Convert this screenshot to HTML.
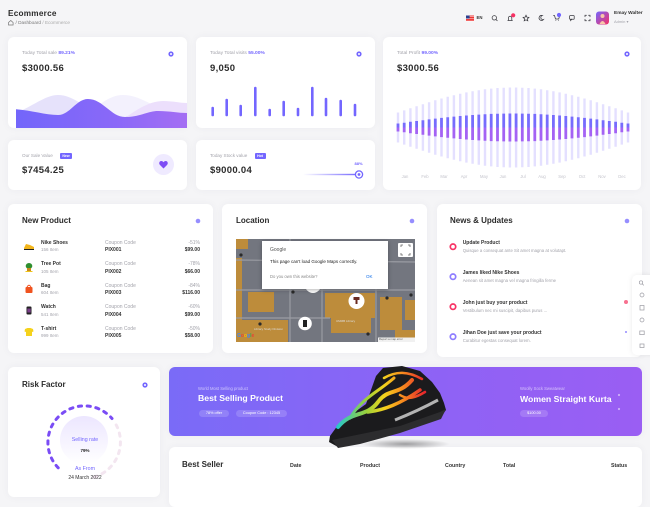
<!DOCTYPE html>
<html><head><meta charset="utf-8">
<style>
*{margin:0;padding:0;box-sizing:border-box}
html,body{width:650px;height:480px;overflow:hidden;background:#f5f5f7;font-family:"Liberation Sans",sans-serif;color:#2c2f36}
.c{position:absolute;background:#fff;border-radius:6px;box-shadow:0 0 8px rgba(60,60,90,.05)}
.t{position:absolute;white-space:nowrap;line-height:1}
.g{color:#a3a3ab}
.p{color:#7366ff;font-weight:bold}
.b{font-weight:bold}
.r{text-align:right}
.ctr{transform:translateX(-50%)}
svg.full{position:absolute;left:0;top:0}
.pill{position:absolute;background:rgba(255,255,255,.16);border-radius:5px;color:#fff;font-size:3.8px;line-height:7px;text-align:center;white-space:nowrap}
</style></head><body>

<!-- cards -->
<div class="c" style="left:8px;top:37px;width:179px;height:91px"></div>
<div class="c" style="left:196px;top:37px;width:179px;height:91px"></div>
<div class="c" style="left:383px;top:37px;width:258px;height:153px"></div>
<div class="c" style="left:8px;top:140px;width:179px;height:50px"></div>
<div class="c" style="left:196px;top:140px;width:179px;height:50px"></div>
<div class="c" style="left:8px;top:204px;width:205px;height:149px"></div>
<div class="c" style="left:222px;top:204px;width:205px;height:149px"></div>
<div class="c" style="left:437px;top:204px;width:205px;height:153px"></div>
<div class="c" style="left:8px;top:367px;width:152px;height:130px"></div>
<div class="c" style="left:169px;top:367px;width:473px;height:69px;background:linear-gradient(90deg,#7a6bf7,#8f62f5 60%,#9a5ef3)"></div>
<div class="c" style="left:169px;top:447px;width:473px;height:60px"></div>
<div class="c" style="left:632px;top:275px;width:26px;height:80px;border-radius:5px 0 0 5px;box-shadow:0 0 6px rgba(0,0,0,.08)"></div>

<svg class="full" width="650" height="480" viewBox="0 0 650 480">
<defs>
<clipPath id="c1"><rect x="8" y="37" width="179" height="91" rx="6"/></clipPath>
<clipPath id="mapc"><rect x="236" y="239" width="179" height="103"/></clipPath>
<linearGradient id="wg" x1="0" x2="1" y1="0" y2="0"><stop offset="0" stop-color="#7166fb"/><stop offset=".6" stop-color="#8a68f8"/><stop offset="1" stop-color="#a46ef3"/></linearGradient>
<linearGradient id="sg" x1="0" x2="1"><stop offset="0" stop-color="#7366ff" stop-opacity="0"/><stop offset="1" stop-color="#7366ff"/></linearGradient>
<linearGradient id="ig" x1="0" x2="0" y1="0" y2="1"><stop offset="0" stop-color="#ece6ff"/><stop offset="1" stop-color="#ffffff"/></linearGradient>
<linearGradient id="av" x1="0" x2="1" y1="0" y2="1"><stop offset="0" stop-color="#7366ff"/><stop offset="1" stop-color="#f73164"/></linearGradient>
<linearGradient id="rb" x1="335" x2="425" y1="0" y2="0" gradientUnits="userSpaceOnUse"><stop offset="0" stop-color="#1ec6d6"/><stop offset=".35" stop-color="#9bd13a"/><stop offset=".55" stop-color="#f5d21c"/><stop offset=".75" stop-color="#f68a1e"/><stop offset="1" stop-color="#e8242c"/></linearGradient>
<radialGradient id="sh" cx=".5" cy=".5" r=".5"><stop offset="0" stop-color="#000" stop-opacity=".35"/><stop offset="1" stop-color="#000" stop-opacity="0"/></radialGradient>
</defs>

<!-- card1 waves -->
<g clip-path="url(#c1)" transform="translate(8,37)">
<path d="M0,78 C20,74 35,58 50,58 C65,58 75,70 92,76 L92,91 L0,91 Z" fill="#e6e2fb"/>
<path d="M70,82 C90,70 100,58 115,58 C130,58 138,66 152,70 L152,91 L70,91 Z" fill="#f3f1fd"/>
<path d="M110,86 C125,75 140,64 155,64 C165,64 172,66 179,66 L179,91 L110,91 Z" fill="#ecdffc"/>
<path d="M0,72 C20,72 35,78 50,78 C62,78 68,62 80,62 C95,62 103,80 117,80 C132,80 140,74 150,74 C162,74 170,76 179,76 L179,91 L0,91 Z" fill="url(#wg)"/>
</g>

<!-- card2 bars -->
<g stroke="#7366ff" stroke-width="2.6" stroke-linecap="round">
<path d="M212.7 108v7M226.7 100v15M240.7 106v9M255.3 88v27M269.7 110v5M283.7 102v13M298 109v6M312.3 88v27M326 99v16M340.7 101v14M355 105v10"/>
</g>

<!-- card3 bars -->
<path stroke="#e4e0ff" stroke-width="2.4" fill="none" d="M398 112.5v30M404.2 110.4v34.2M410.4 108.3v38.4M416.6 106.2v42.6M422.9 104.2v46.6M429.1 102.2v50.6M435.3 100.3v54.4M441.5 98.5v58M447.7 96.8v61.4M453.9 95.2v64.6M460.2 93.7v67.6M466.4 92.4v70.2M472.6 91.2v72.6M478.8 90.2v74.6M485 89.3v76.4M491.2 88.6v77.8M497.5 88v79M503.7 87.7v79.6M509.9 87.5v80M516.1 87.5v80M522.3 87.7v79.6M528.5 88v79M534.8 88.6v77.8M541 89.3v76.4M547.2 90.2v74.6M553.4 91.2v72.6M559.6 92.4v70.2M565.8 93.7v67.6M572 95.2v64.6M578.3 96.8v61.4M584.5 98.5v58M590.7 100.3v54.4M596.9 102.2v50.6M603.1 104.2v46.6M609.3 106.2v42.6M615.6 108.3v38.4M621.8 110.4v34.2M628 112.5v30"/>
<path stroke="#776cfd" stroke-width="2.8" fill="none" d="M398 123.5v4M404.2 122.7v4.8M410.4 121.8v5.7M416.6 121v6.5M422.9 120.2v7.3M429.1 119.4v8.1M435.3 118.6v8.9M441.5 117.9v9.6M447.7 117.2v10.3M453.9 116.6v10.9M460.2 116v11.5M466.4 115.5v12M472.6 115v12.5M478.8 114.6v12.9M485 114.2v13.3M491.2 113.9v13.6M497.5 113.7v13.8M503.7 113.6v13.9M509.9 113.5v14M516.1 113.5v14M522.3 113.6v13.9M528.5 113.7v13.8M534.8 113.9v13.6M541 114.2v13.3M547.2 114.6v12.9M553.4 115v12.5M559.6 115.5v12M565.8 116v11.5M572 116.6v10.9M578.3 117.2v10.3M584.5 117.9v9.6M590.7 118.6v8.9M596.9 119.4v8.1M603.1 120.2v7.3M609.3 121v6.5M615.6 121.8v5.7M621.8 122.7v4.8M628 123.5v4"/>
<path stroke="#a463f4" stroke-width="2.8" fill="none" d="M398 127.5v4M404.2 127.5v4.8M410.4 127.5v5.7M416.6 127.5v6.5M422.9 127.5v7.3M429.1 127.5v8.1M435.3 127.5v8.9M441.5 127.5v9.6M447.7 127.5v10.3M453.9 127.5v10.9M460.2 127.5v11.5M466.4 127.5v12M472.6 127.5v12.5M478.8 127.5v12.9M485 127.5v13.3M491.2 127.5v13.6M497.5 127.5v13.8M503.7 127.5v13.9M509.9 127.5v14M516.1 127.5v14M522.3 127.5v13.9M528.5 127.5v13.8M534.8 127.5v13.6M541 127.5v13.3M547.2 127.5v12.9M553.4 127.5v12.5M559.6 127.5v12M565.8 127.5v11.5M572 127.5v10.9M578.3 127.5v10.3M584.5 127.5v9.6M590.7 127.5v8.9M596.9 127.5v8.1M603.1 127.5v7.3M609.3 127.5v6.5M615.6 127.5v5.7M621.8 127.5v4.8M628 127.5v4"/>

<!-- gears -->
<g fill="#7366ff">
<circle cx="171" cy="54" r="2.6"/><circle cx="359" cy="54" r="2.6"/><circle cx="627" cy="54" r="2.6"/><circle cx="145" cy="385" r="2.6"/>
</g>
<g fill="#fff"><circle cx="171" cy="54" r="1"/><circle cx="359" cy="54" r="1"/><circle cx="627" cy="54" r="1"/><circle cx="145" cy="385" r="1"/></g>
<!-- title dots -->
<g fill="#968eff"><circle cx="198" cy="221" r="2.3"/><circle cx="412" cy="221" r="2.3"/><circle cx="627" cy="221" r="2.3"/></g>

<!-- heart -->
<circle cx="163.5" cy="164.5" r="10.5" fill="#efeaff"/>
<path d="M163.5,168.5 L160,165 C158.5,163.5 159.3,161 161.3,161 C162.3,161 163,161.6 163.5,162.3 C164,161.6 164.7,161 165.7,161 C167.7,161 168.5,163.5 167,165 Z" fill="#7e4cf5"/>

<!-- slider -->
<rect x="303" y="173.8" width="55" height="1.4" fill="url(#sg)"/>
<circle cx="359" cy="174.5" r="3.6" fill="#fff" stroke="#7366ff" stroke-width="1.3"/>
<circle cx="359" cy="174.5" r="1.4" fill="#7366ff"/>

<!-- product icons -->
<g>
<path d="M24,248 L26,244 L30,245 L34,247 L34,249 L24,249 Z" fill="#f2b51c"/><path d="M24,249 L34,249 L34,250 L24,250Z" fill="#222"/>
<ellipse cx="29" cy="266" rx="3.3" ry="3" fill="#2f8f2f"/><rect x="27" y="268" width="4" height="3" fill="#c7891e"/><rect x="25.5" y="271" width="7" height="1" fill="#f0c419"/>
<rect x="25.5" y="287" width="7" height="6" rx="1" fill="#f0531f"/><path d="M27,287 Q29,283.5 31,287" stroke="#f0531f" stroke-width="0.9" fill="none"/>
<rect x="26.5" y="306.5" width="5" height="8" rx="1" fill="#222"/><rect x="27.3" y="308.5" width="3.4" height="4" fill="#7b3f8a"/>
<path d="M25,329 L27.5,328 L30.5,328 L33,329 L33.5,331.5 L32,332 L32,336 L26,336 L26,332 L24.5,331.5 Z" fill="#f5d21c"/>
</g>

<!-- map -->
<g clip-path="url(#mapc)">
<rect x="236" y="239" width="179" height="103" fill="#73767f"/>
<g fill="#bd8c3b">
<rect x="236" y="239" width="12" height="10"/>
<rect x="236" y="258" width="6" height="84"/>
<rect x="248" y="292" width="26" height="20"/>
<rect x="236" y="320" width="52" height="22"/>
<rect x="325" y="293" width="50" height="25"/>
<rect x="331" y="318" width="40" height="15"/>
<rect x="380" y="297" width="22" height="33"/>
<rect x="405" y="300" width="10" height="20"/>
<rect x="395" y="330" width="20" height="12"/>
</g>
<g stroke="#9a9ca3" stroke-width="1.2" fill="none">
<path d="M236,290 L415,290M236,318 L330,318M290,239 L290,342M322,270 L322,342M376,270 L376,342M236,260 L415,262"/>
</g>
<g fill="#2a2a2a"><circle cx="241" cy="255" r="1.6"/><circle cx="293" cy="292" r="1.6"/><circle cx="387" cy="298" r="1.6"/><circle cx="411" cy="295" r="1.6"/><circle cx="260" cy="324" r="1.6"/><circle cx="368" cy="334" r="1.6"/><circle cx="266" cy="285" r="1.4"/></g>
<circle cx="313" cy="285" r="8" fill="#fff"/>
<circle cx="356.5" cy="301" r="8" fill="#fff"/><path d="M353.5,297 h6 v3 h-2 v4 h-2 v-4 h-2z" fill="#6a2a20"/>
<circle cx="305" cy="323.5" r="6.8" fill="#fff"/><path d="M303,320 h4 v7 h-4z" fill="#222"/>
<rect x="378" y="337.5" width="37" height="4.5" fill="#f1f1f1"/>
</g>
<!-- map dialog -->
<rect x="262" y="241" width="126" height="48" fill="#fff" style="filter:drop-shadow(0 1px 2px rgba(0,0,0,.3))"/>
<rect x="398" y="243" width="15" height="14" rx="1" fill="#fff"/>
<path d="M401,247v-2h2M408,245h2v2M410,253v2h-2M403,255h-2v-2" stroke="#666" stroke-width=".8" fill="none"/>

<!-- news circles -->
<g fill="#fff" stroke-width="1.7">
<circle cx="453" cy="246.7" r="2.7" stroke="#f73164"/>
<circle cx="453" cy="276.7" r="2.7" stroke="#8d7cff"/>
<circle cx="453" cy="306.7" r="2.7" stroke="#f73164"/>
<circle cx="453" cy="336.7" r="2.7" stroke="#8d7cff"/>
</g>
<circle cx="626" cy="302" r="2" fill="#f7708f"/>
<circle cx="626" cy="332" r="0.9" fill="#7366ff"/>

<!-- right toolbar icons -->
<g stroke="#9a9aa2" stroke-width=".7" fill="none">
<circle cx="641" cy="282.5" r="1.7"/><path d="M642.2,283.8 l1.6,1.6"/>
<circle cx="642" cy="295" r="2"/>
<rect x="640" y="305.5" width="4" height="4.5"/>
<circle cx="642" cy="320" r="2"/>
<rect x="639.8" y="331" width="4.4" height="3.6"/>
<rect x="640" y="344" width="4" height="3.5"/>
</g>

<!-- risk ring -->
<circle cx="84" cy="440" r="24" fill="url(#ig)"/>
<path d="M58.2,467.8 A36.5,36.5 0 1 1 112,418.5" fill="none" stroke="#7a4cf5" stroke-width="3" stroke-dasharray="3.2 5.6" stroke-linecap="round"/>
<path d="M116.2,424.9 A36.5,36.5 0 0 1 90.3,477.9" fill="none" stroke="#f3e6f0" stroke-width="3" stroke-dasharray="3.2 5.6" stroke-linecap="round"/>

<!-- banner dots -->
<circle cx="619" cy="395" r="1.1" fill="#fff" opacity=".5"/>
<circle cx="619" cy="409" r="1.1" fill="#fff" opacity=".5"/>

<!-- shoe -->
<ellipse cx="405" cy="444" rx="45" ry="5" fill="url(#sh)"/>
<path d="M330,436 L338,425 L352,414 L366,404 L371,390 L376,376 L383,368 L402,366 L420,371 L432,382 L440,393 L444,403 L446,410 L440,418 L400,432 L360,443 L338,447 L329,442 Z" fill="#1b1b1d"/>
<path d="M332,440 L400,426 L440,412 L446,409 L441,419 L400,433 L360,444 L338,448 Z" fill="#2c2c2e"/>
<path d="M395,420 C410,414 425,407 438,400" stroke="#d9d9d9" stroke-width="3" fill="none" opacity=".8"/>
<g stroke="url(#rb)" fill="none" stroke-linecap="round">
<path d="M338,427 C352,410 366,418 378,402 C388,388 398,396 412,380" stroke-width="4"/>
<path d="M350,418 C362,398 378,392 394,378" stroke-width="3"/>
<path d="M368,412 C384,410 400,404 420,390" stroke-width="3.5"/>
<path d="M384,378 C396,371 408,371 422,379" stroke-width="2.5"/>
<path d="M400,395 C408,400 415,398 425,392" stroke-width="2.5"/>
</g>

<!-- header icons -->
<rect x="466" y="15.5" width="8" height="5.5" fill="#e33"/>
<path d="M466,16.6h8M466,18.8h8M466,21h8" stroke="#fff" stroke-width=".5"/>
<rect x="466" y="15.5" width="3.6" height="3" fill="#2a3f8f"/>
<g stroke="#3a3a40" stroke-width=".75" fill="none" stroke-linecap="round">
<circle cx="494.3" cy="17.8" r="2.2"/><path d="M495.9,19.4 l1.3,1.3"/>
<path d="M507.8,20.5 h4.6 M508.4,20.5 v-2.5 a1.7,1.7 0 0 1 3.4,0 v2.5"/>
<path d="M526,15.2 l0.9,1.9 2,.3 -1.45,1.4 .35,2 -1.8,-.95 -1.8,.95 .35,-2 -1.45,-1.4 2,-.3z"/>
<path d="M542.3,15.5 a2.5,2.5 0 1 0 1.2,4 a2,2 0 0 1 -1.2,-4z"/>
<path d="M553.5,15.5 h1 l1,3.5 h3.2 l.7,-2.3 M555.8,20.6 h.1 M558.3,20.6 h.1"/>
<rect x="569.6" y="15.6" width="4.6" height="3.6" rx=".5"/><path d="M570.6,19.2 v1.3 l1.2,-1.3"/>
<path d="M585,16.8v-1.5h1.5M588.5,15.3h1.5v1.5M590,19.3v1.5h-1.5M586.5,20.8h-1.5v-1.5"/>
</g>
<circle cx="513.2" cy="15.3" r="2.1" fill="#f73164"/>
<circle cx="559" cy="15" r="2.1" fill="#7366ff"/>
<rect x="596" y="11.5" width="13" height="13" rx="3" fill="url(#av)"/>
<circle cx="602.5" cy="16" r="2" fill="#f8c7a8"/><path d="M599.5,24 q3,-6 6,0z" fill="#f8c7a8"/>
<!-- breadcrumb home -->
<path d="M8.5,25 v-2.5 l2.3,-2 2.3,2 v2.5z" fill="none" stroke="#777" stroke-width=".7"/>
</svg>

<!-- header text -->
<div class="t b" style="left:8px;top:10px;font-size:8.2px;letter-spacing:.25px;color:#2b2b2b">Ecommerce</div>
<div class="t" style="left:15.5px;top:21.2px;font-size:4.7px;color:#777">/ Dashboard <span style="color:#aaa">/ Ecommerce</span></div>
<div class="t b" style="left:476.5px;top:16.1px;font-size:4.3px;color:#333">EN</div>
<div class="t b" style="left:614px;top:12.2px;font-size:4.8px;color:#333">Emay Walter</div>
<div class="t g" style="left:614px;top:19.5px;font-size:4px">Admin ▾</div>

<!-- card1 -->
<div class="t g" style="left:22px;top:51.6px;font-size:4.9px">Today Total sale <span class="p">89.21%</span></div>
<div class="t b" style="left:22px;top:64px;font-size:9.5px;letter-spacing:.3px;color:#2b2b2b">$3000.56</div>
<!-- card2 -->
<div class="t g" style="left:210px;top:51.6px;font-size:4.9px">Today Total visits <span class="p">55.00%</span></div>
<div class="t b" style="left:210px;top:64px;font-size:9.5px;letter-spacing:.3px;color:#2b2b2b">9,050</div>
<!-- card3 -->
<div class="t g" style="left:397px;top:51.6px;font-size:4.9px">Total Profit <span class="p">99.00%</span></div>
<div class="t b" style="left:397px;top:64px;font-size:9.5px;letter-spacing:.3px;color:#2b2b2b">$3000.56</div>
<div class="t" style="top:175.2px;left:0;width:650px;font-size:4.2px;color:#c4c4cc">
<span class="t ctr" style="left:405px">Jan</span><span class="t ctr" style="left:425px">Feb</span><span class="t ctr" style="left:444px">Mar</span><span class="t ctr" style="left:464px">Apr</span><span class="t ctr" style="left:484px">May</span><span class="t ctr" style="left:503px">Jun</span><span class="t ctr" style="left:523px">Jul</span><span class="t ctr" style="left:542px">Aug</span><span class="t ctr" style="left:562px">Sep</span><span class="t ctr" style="left:582px">Oct</span><span class="t ctr" style="left:602px">Nov</span><span class="t ctr" style="left:622px">Dec</span>
</div>
<!-- card4 -->
<div class="t g" style="left:22px;top:153.6px;font-size:4.6px">Our Sale Value</div>
<div class="t b" style="left:60px;top:153px;width:12px;height:6px;background:#7366ff;color:#fff;font-size:3.5px;line-height:6px;text-align:center;border-radius:1px">New</div>
<div class="t b" style="left:22px;top:166.2px;font-size:9.5px;letter-spacing:.3px;color:#2b2b2b">$7454.25</div>
<!-- card5 -->
<div class="t g" style="left:210px;top:153.6px;font-size:4.6px">Today Stock value</div>
<div class="t b" style="left:254.5px;top:153px;width:11px;height:6px;background:#7366ff;color:#fff;font-size:3.5px;line-height:6px;text-align:center;border-radius:1px">Hot</div>
<div class="t b" style="left:210px;top:166.2px;font-size:9.5px;letter-spacing:.3px;color:#2b2b2b">$9000.04</div>
<div class="t b ctr" style="left:358.5px;top:162px;font-size:4px;color:#7366ff">88%</div>

<!-- New Product -->
<div class="t b" style="left:22px;top:217px;font-size:8px;color:#2b2b2b">New Product</div>
<div class="t b" style="left:41px;top:240.5px;font-size:5px;color:#333">Nike Shoes</div>
<div class="t g" style="left:41px;top:248px;font-size:4.5px">156 Item</div>
<div class="t g" style="left:105px;top:240.5px;font-size:5px">Coupon Code</div>
<div class="t b" style="left:105px;top:248px;font-size:5px;color:#333">PIX001</div>
<div class="t g r" style="right:450px;top:240.5px;font-size:5px">-51%</div>
<div class="t b r" style="right:450px;top:248px;font-size:5px;color:#333">$99.00</div>

<div class="t b" style="left:41px;top:262px;font-size:5px;color:#333">Tree Pot</div>
<div class="t g" style="left:41px;top:269.5px;font-size:4.5px">105 Item</div>
<div class="t g" style="left:105px;top:262px;font-size:5px">Coupon Code</div>
<div class="t b" style="left:105px;top:269.5px;font-size:5px;color:#333">PIX002</div>
<div class="t g r" style="right:450px;top:262px;font-size:5px">-78%</div>
<div class="t b r" style="right:450px;top:269.5px;font-size:5px;color:#333">$66.00</div>

<div class="t b" style="left:41px;top:283.5px;font-size:5px;color:#333">Bag</div>
<div class="t g" style="left:41px;top:291px;font-size:4.5px">604 Item</div>
<div class="t g" style="left:105px;top:283.5px;font-size:5px">Coupon Code</div>
<div class="t b" style="left:105px;top:291px;font-size:5px;color:#333">PIX003</div>
<div class="t g r" style="right:450px;top:283.5px;font-size:5px">-84%</div>
<div class="t b r" style="right:450px;top:291px;font-size:5px;color:#333">$116.00</div>

<div class="t b" style="left:41px;top:305px;font-size:5px;color:#333">Watch</div>
<div class="t g" style="left:41px;top:312.5px;font-size:4.5px">541 Item</div>
<div class="t g" style="left:105px;top:305px;font-size:5px">Coupon Code</div>
<div class="t b" style="left:105px;top:312.5px;font-size:5px;color:#333">PIX004</div>
<div class="t g r" style="right:450px;top:305px;font-size:5px">-60%</div>
<div class="t b r" style="right:450px;top:312.5px;font-size:5px;color:#333">$99.00</div>

<div class="t b" style="left:41px;top:326.5px;font-size:5px;color:#333">T-shirt</div>
<div class="t g" style="left:41px;top:334px;font-size:4.5px">999 Item</div>
<div class="t g" style="left:105px;top:326.5px;font-size:5px">Coupon Code</div>
<div class="t b" style="left:105px;top:334px;font-size:5px;color:#333">PIX005</div>
<div class="t g r" style="right:450px;top:326.5px;font-size:5px">-50%</div>
<div class="t b r" style="right:450px;top:334px;font-size:5px;color:#333">$58.00</div>

<!-- Location -->
<div class="t b" style="left:236px;top:217px;font-size:8px;color:#2b2b2b">Location</div>
<div class="t" style="left:270px;top:247.5px;font-size:5px;color:#555">Google</div>
<div class="t" style="left:270px;top:259.7px;font-size:4.5px;color:#222">This page can't load Google Maps correctly.</div>
<div class="t" style="left:270px;top:275px;font-size:4.2px;color:#888">Do you own this website?</div>
<div class="t" style="left:366px;top:274.8px;font-size:4.5px;color:#1a73e8">OK</div>
<div class="t b" style="left:237px;top:334px;font-size:5px"><span style="color:#4285f4">G</span><span style="color:#ea4335">o</span><span style="color:#fbbc05">o</span><span style="color:#4285f4">g</span><span style="color:#34a853">l</span><span style="color:#ea4335">e</span></div>
<div class="t" style="left:379px;top:338.3px;font-size:2.8px;color:#555">Report a map error</div>
<div class="t" style="left:254px;top:328px;font-size:3px;color:#ddd">Library Study Division</div>
<div class="t" style="left:336px;top:320px;font-size:3px;color:#ddd">UMMB Library</div>

<!-- News -->
<div class="t b" style="left:450px;top:217px;font-size:8px;color:#2b2b2b">News &amp; Updates</div>
<div class="t b" style="left:462.7px;top:240.5px;font-size:5px;color:#333">Update Product</div>
<div class="t g" style="left:462.7px;top:248.8px;font-size:4.3px">Quisque a consequat ante Sit amet magna at volutapt.</div>
<div class="t b" style="left:462.7px;top:270.5px;font-size:5px;color:#333">James liked Nike Shoes</div>
<div class="t g" style="left:462.7px;top:278.8px;font-size:4.3px">Aenean sit amet magna vel magna fringilla ferme</div>
<div class="t b" style="left:462.7px;top:300.5px;font-size:5px;color:#333">John just buy your product</div>
<div class="t g" style="left:462.7px;top:308.8px;font-size:4.3px">Vestibulum nec mi suscipit, dapibus purus ...</div>
<div class="t b" style="left:462.7px;top:330.5px;font-size:5px;color:#333">Jihan Doe just save your product</div>
<div class="t g" style="left:462.7px;top:338.8px;font-size:4.3px">Curabitur egestas consequat lorem.</div>

<!-- Risk -->
<div class="t b" style="left:22px;top:381.3px;font-size:8px;color:#2b2b2b">Risk Factor</div>
<div class="t ctr" style="left:85px;top:437.5px;font-size:5.3px;color:#7366ff">Selling rate</div>
<div class="t b ctr" style="left:85px;top:448.8px;font-size:4.5px;color:#222">79%</div>
<div class="t ctr" style="left:85px;top:467.4px;font-size:5.3px;color:#7366ff">As From</div>
<div class="t ctr" style="left:85px;top:476px;font-size:5px;color:#333">24 March 2022</div>

<!-- Banner -->
<div class="t" style="left:198px;top:386.7px;font-size:4.2px;color:rgba(255,255,255,.6)">World Most Selling product</div>
<div class="t b" style="left:198px;top:394.4px;font-size:8.7px;color:#fff">Best Selling Product</div>
<div class="pill" style="left:199px;top:409.5px;width:30px">78% offer</div>
<div class="pill" style="left:236px;top:409.5px;width:51px">Coupon Code : 12345</div>
<div class="t" style="left:520px;top:386.7px;font-size:4.2px;color:rgba(255,255,255,.6)">Woolly Sock Sweatwear</div>
<div class="t b" style="left:520px;top:395px;font-size:8.7px;color:#fff">Women Straight Kurta</div>
<div class="pill" style="left:520px;top:409.5px;width:28px">$100.00</div>

<!-- Best seller -->
<div class="t b" style="left:182px;top:461.3px;font-size:8px;color:#2b2b2b">Best Seller</div>
<div class="t b" style="left:290px;top:464px;font-size:5.3px;color:#333">Date</div>
<div class="t b" style="left:360px;top:464px;font-size:5.3px;color:#333">Product</div>
<div class="t b" style="left:445px;top:464px;font-size:5.3px;color:#333">Country</div>
<div class="t b" style="left:503px;top:464px;font-size:5.3px;color:#333">Total</div>
<div class="t b" style="left:611px;top:464px;font-size:5.3px;color:#333">Status</div>

</body></html>
